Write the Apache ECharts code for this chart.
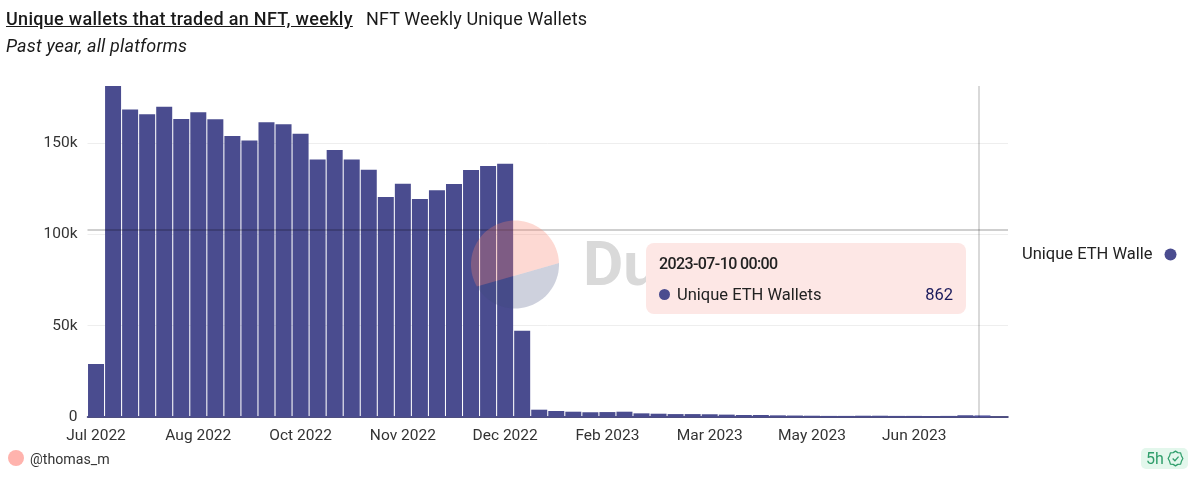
<!DOCTYPE html>
<html>
<head>
  <title>NFT Weekly Unique Wallets</title>
  <meta charset="utf-8" />
  <script src="https://cdn.jsdelivr.net/npm/echarts@6/dist/echarts.min.js"></script>
  <style>
    html, body { margin: 0; padding: 0; background: #fff; }
    body { width: 1200px; height: 479px; position: relative; overflow: hidden; font-family: Roboto, sans-serif; color: #1a1a1a; }
    #main { position: absolute; left: 0; top: 0; width: 1200px; height: 479px; }
    .head { position: absolute; white-space: nowrap; font-size: 18px; line-height: 24px; }
    #title { left: 6px; top: 7px; font-weight: 500; text-decoration: underline; letter-spacing: 0.3px; }
    #name { left: 366px; top: 7px; letter-spacing: 0.12px; }
    #sub { left: 6px; top: 34px; font-style: italic; letter-spacing: 0.17px; }
    #dot { position: absolute; left: 8px; top: 450px; width: 16px; height: 16px; border-radius: 50%; background: #ffb3ad; }
    #author { position: absolute; left: 30px; top: 450px; font-size: 14.2px; line-height: 18px; color: #333; }
    #badge { position: absolute; left: 1141px; top: 448px; width: 47px; height: 21px; border-radius: 5px; background: #e3f7ec; color: #2f9e6b; font-size: 16px; line-height: 21px; }
    #badge span { position: absolute; left: 5px; }
    #badge svg { position: absolute; left: 26px; top: 2px; }
  </style>
</head>
<body>
<div id="main"></div>
<div id="title" class="head">Unique wallets that traded an NFT, weekly</div>
<div id="name" class="head">NFT Weekly Unique Wallets</div>
<div id="sub" class="head">Past year, all platforms</div>
<div id="dot"></div>
<div id="author">@thomas_m</div>
<div id="badge"><span>5h</span>
  <svg width="17" height="17" viewBox="0 0 15 15" fill="none" stroke="#2f9e6b" stroke-width="1.1">
    <path d="M7.5 1 L9.5 2.3 L12 2.5 L12.7 5 L14 7.5 L12.7 10 L12 12.5 L9.5 12.7 L7.5 14 L5.5 12.7 L3 12.5 L2.3 10 L1 7.5 L2.3 5 L3 2.5 L5.5 2.3 Z" stroke-linejoin="round"/>
    <path d="M5 7.5 L7 9.5 L10.2 5.8"/>
  </svg>
</div>

<script>
// 每周一根柱子，最后一个空位是图表右侧留白
var weeks = [
  '2022-07-11','2022-07-18','2022-07-25','2022-08-01','2022-08-08','2022-08-15','2022-08-22','2022-08-29','2022-09-05',
  '2022-09-12','2022-09-19','2022-09-26','2022-10-03','2022-10-10','2022-10-17','2022-10-24','2022-10-31','2022-11-07',
  '2022-11-14','2022-11-21','2022-11-28','2022-12-05','2022-12-12','2022-12-19','2022-12-26','2023-01-02','2023-01-09',
  '2023-01-16','2023-01-23','2023-01-30','2023-02-06','2023-02-13','2023-02-20','2023-02-27','2023-03-06','2023-03-13',
  '2023-03-20','2023-03-27','2023-04-03','2023-04-10','2023-04-17','2023-04-24','2023-05-01','2023-05-08','2023-05-15',
  '2023-05-22','2023-05-29','2023-06-05','2023-06-12','2023-06-19','2023-06-26','2023-07-03','2023-07-10','2023-07-17'
];
var weekLabels = {
  '2022-07-11': 'Jul 2022', '2022-08-22': 'Aug 2022', '2022-10-03': 'Oct 2022',
  '2022-11-14': 'Nov 2022', '2022-12-26': 'Dec 2022', '2023-02-06': 'Feb 2023',
  '2023-03-20': 'Mar 2023', '2023-05-01': 'May 2023', '2023-06-12': 'Jun 2023'
};
var uniqueWallets = [
  29000, 181200, 168400, 165700, 169900, 163100, 166800, 163000, 153800,
  151300, 161300, 160200, 155100, 141000, 146200, 141000, 135400, 120400,
  127700, 119300, 124100, 127500, 135200, 137400, 138700, 47200, 4000,
  3300, 2900, 2600, 2700, 2900, 2000, 1800, 1600, 1600,
  1500, 1300, 1100, 1100, 900, 800, 700, 600, 600,
  700, 700, 600, 600, 500, 600, 950, 862, null
];
var yTicks = [0, 50000, 100000, 150000];

// 水印圆的一段弧，用来画粉色和紫色两块
function logoArc(from, to) {
  var pts = [];
  for (var a = from; a <= to; a += 4) {
    pts.push([515 + 44 * Math.cos(a * Math.PI / 180), 264.5 + 44 * Math.sin(a * Math.PI / 180)]);
  }
  return pts;
}

var myChart = echarts.init(document.getElementById('main'), null, { renderer: 'canvas' });

var option = {
  animation: false,
  textStyle: { fontFamily: 'Roboto, sans-serif' },
  grid: { left: 87.5, right: 192, top: 86, bottom: 62 },
  legend: {
    left: 1017, top: 241, align: 'right', icon: 'circle',
    itemWidth: 12, itemHeight: 12, itemGap: 7,
    selectedMode: false,
    textStyle: { fontSize: 16.5, color: '#222', width: 135, overflow: 'truncate', ellipsis: '', padding: [0, 7, 0, 0] },
    data: ['Unique ETH Wallets']
  },
  xAxis: {
    type: 'category',
    data: weeks,
    axisTick: { show: false },
    axisLine: { lineStyle: { color: '#1a1a5c', width: 1.5 } },
    axisLabel: {
      interval: 5, hideOverlap: false, margin: 11, fontSize: 15.5, color: '#333',
      formatter: function (v) { return weekLabels[v] || ''; }
    },
    axisPointer: { lineStyle: { color: 'transparent' } }
  },
  yAxis: {
    type: 'value',
    min: 0, max: 181200, interval: 50000,
    axisLine: { show: false },
    axisTick: { show: false },
    splitLine: { showMaxLine: false, lineStyle: { color: '#eeeeee' } },
    axisLabel: {
      margin: 10, fontSize: 15.5, color: '#333',
      formatter: function (v) {
        if (yTicks.indexOf(v) < 0) return '';
        return v === 0 ? '0' : (v / 1000) + 'k';
      }
    }
  },
  tooltip: {
    trigger: 'axis',
    alwaysShowContent: true,
    transitionDuration: 0,
    position: [646, 243],
    padding: 0,
    borderWidth: 0,
    backgroundColor: '#fde7e5',
    extraCssText: 'box-shadow:none;border-radius:8px;width:320px;height:71px;',
    axisPointer: {
      type: 'cross',
      snap: false,
      label: { show: false },
      lineStyle: { type: 'solid', color: 'rgba(0,0,0,0.25)', width: 1.5 },
      crossStyle: { type: 'solid', color: 'rgba(0,0,0,0.25)', width: 1.5 }
    },
    formatter: function () {
      return '<div style="position:relative;height:71px;font-family:Roboto,sans-serif;color:#222;line-height:20px;">' +
        '<div style="position:absolute;left:13px;top:11px;font-size:16px;font-weight:500;letter-spacing:-0.6px;">2023-07-10 00:00</div>' +
        '<div style="position:absolute;left:13px;top:46px;width:11px;height:11px;border-radius:50%;background:#4a4c8f;"></div>' +
        '<div style="position:absolute;left:31px;top:42px;font-size:16.5px;">Unique ETH Wallets</div>' +
        '<div style="position:absolute;right:13px;top:42px;font-size:16.5px;color:#1a1a5c;">862</div>' +
        '</div>';
    }
  },
  // 水印盖在柱子上面
  graphic: [
    { type: 'polygon', z: 50, shape: { points: logoArc(-2, 150) }, style: { fill: 'rgba(60,70,120,0.25)' } },
    { type: 'polygon', z: 51, shape: { points: logoArc(150, 358) }, style: { fill: 'rgba(250,130,110,0.3)' } },
    { type: 'text', z: 1, x: 583, y: 238, style: { text: 'Dune', fontSize: 62, fontWeight: 'bold', fontFamily: 'Roboto, sans-serif', fill: '#d9d9d9' } },
    // 竖直十字线
    { type: 'line', z: 52, shape: { x1: 979, y1: 86, x2: 979, y2: 417 }, style: { stroke: 'rgba(0,0,0,0.3)', lineWidth: 1 } }
  ],
  series: [{
    name: 'Unique ETH Wallets',
    type: 'bar',
    data: uniqueWallets,
    barWidth: 16,
    itemStyle: { color: '#4a4c8f' }
  }]
};
myChart.setOption(option);
myChart.dispatchAction({ type: 'showTip', x: 979, y: 230 });
</script>
</body>
</html>
